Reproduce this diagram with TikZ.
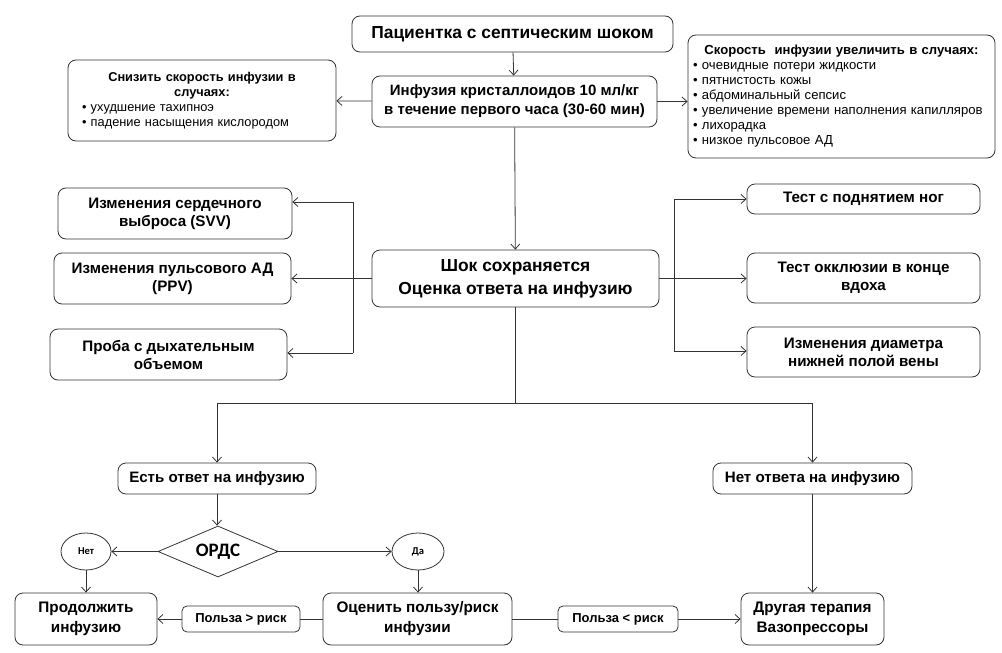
\documentclass[tikz,border=0pt]{standalone}
\usepackage{fontspec}
\setmainfont{Liberation Sans}
\newfontfamily\calib{Carlito}
\usetikzlibrary{arrows.meta,shapes.geometric}

\newcommand\fsz[2]{\fontsize{#1}{#2}\selectfont}
\tikzset{
  box/.style={draw=black!80, rounded corners=8pt, align=center, inner sep=3pt},
  arr/.style={draw=black!80, -{Straight Barb[length=5pt,width=9pt]}},
  ln/.style={draw=black!80},
}

\begin{document}
\begin{tikzpicture}[x=1pt,y=-1pt,line width=0.8pt]
\useasboundingbox (0,0) rectangle (1002,653);
% top row
\node[box, minimum width=321pt, minimum height=36pt, font=\bfseries\fsz{17.4}{20}] (patient) at (512.5,34) {Пациентка с септическим шоком};
\node[box, minimum width=285pt, minimum height=51pt, font=\bfseries\fsz{15}{19}] (infuse) at (514.5,101.5) {Инфузия кристаллоидов 10 мл/кг\\в течение первого часа (30-60 мин)};
\node[box, minimum width=268pt, minimum height=81pt, text width=240pt, align=left, font=\fsz{12.8}{15}] (slow) at (202,100.5)
  {{\centering\bfseries Снизить скорость инфузии в\\случаях:\par}• ухудшение тахипноэ\\• падение насыщения кислородом};
\node[box, minimum width=307pt, minimum height=123pt, text width=297pt, align=left, font=\fsz{13.1}{15}] (fast) at (841.5,96.5)
  {{\centering\bfseries Скорость\ \ инфузии увеличить в случаях:\par}• очевидные потери жидкости\\• пятнистость кожы\\• абдоминальный сепсис\\• увеличение времени наполнения капилляров\\• лихорадка\\• низкое пульсовое АД};
% middle row
\node[box, minimum width=287pt, minimum height=57pt, font=\bfseries\fsz{17.4}{23}] (shock) at (515.5,278.5) {Шок сохраняется\\Оценка ответа на инфузию};
\node[box, minimum width=234pt, minimum height=51pt, font=\bfseries\fsz{15.2}{18}] (svv) at (175,213.5) {Изменения сердечного\\выброса (SVV)};
\node[box, minimum width=237pt, minimum height=51pt, font=\bfseries\fsz{15.2}{18}] (ppv) at (172.5,278.5) {Изменения пульсового АД\\(PPV)};
\node[box, minimum width=237pt, minimum height=51pt, font=\bfseries\fsz{15.2}{18}] (tidal) at (168.5,354.5) {Проба с дыхательным\\объемом};
\node[box, minimum width=233pt, minimum height=30pt, font=\bfseries\fsz{15.2}{18}] (leg) at (863.5,199) {Тест с поднятием ног};
\node[box, minimum width=233pt, minimum height=50pt, font=\bfseries\fsz{15.2}{18}] (occl) at (863.5,278) {Тест окклюзии в конце\\вдоха};
\node[box, minimum width=233pt, minimum height=50pt, font=\bfseries\fsz{15.2}{18}] (ivc) at (863.5,352) {Изменения диаметра\\нижней полой вены};
% bottom part
\node[box, minimum width=198pt, minimum height=31pt, font=\bfseries\fsz{15.1}{18}] (yes) at (217,478.5) {Есть ответ на инфузию};
\node[box, minimum width=199pt, minimum height=31pt, font=\bfseries\fsz{15.1}{18}] (noresp) at (812.5,478.5) {Нет ответа на инфузию};
\node[draw=black!80, diamond, aspect=2.35, minimum width=120pt, minimum height=51pt, inner sep=0pt, font=\calib\bfseries\fsz{19}{22}] (ards) at (218,551.5) {ОРДС};
\node[draw=black!80, ellipse, minimum width=50pt, minimum height=37pt, inner sep=0pt, font=\calib\bfseries\fsz{10.5}{13}] (net) at (86,551.5) {Нет};
\node[draw=black!80, ellipse, minimum width=52pt, minimum height=37pt, inner sep=0pt, font=\calib\bfseries\fsz{10.5}{13}] (da) at (418,551.5) {Да};
\node[box, minimum width=142pt, minimum height=52pt, font=\bfseries\fsz{15.3}{20}] (cont) at (86,619) {Продолжить\\инфузию};
\node[box, minimum width=189pt, minimum height=52pt, font=\bfseries\fsz{15.3}{20}] (eval) at (417.5,619) {Оценить пользу/риск\\инфузии};
\node[box, minimum width=143pt, minimum height=52pt, font=\bfseries\fsz{15.3}{20}] (other) at (812.5,619) {Другая терапия\\Вазопрессоры};
\node[box, rounded corners=5pt, minimum width=118pt, minimum height=26pt, font=\bfseries\fsz{13}{15}] (gt) at (241,619) {Польза > риск};
\node[box, rounded corners=5pt, minimum width=120pt, minimum height=26pt, font=\bfseries\fsz{13}{15}] (lt) at (618,619) {Польза < риск};
% connectors
\draw[arr] (patient) -- (infuse);
\draw[arr] (infuse) -- (slow);
\draw[arr] (infuse.east) -- (infuse.east -| fast.west);
\draw[arr] (infuse) -- (shock);
\coordinate (lbtop) at (353,202);
\coordinate (lbbot) at (353,353);
\draw[arr] (shock.west) -- (ppv.east);
\draw[ln] (lbtop) -- (lbbot);
\draw[arr] (lbtop) -- (lbtop -| svv.east);
\draw[arr] (lbbot) -- (lbbot -| tidal.east);
\coordinate (rbtop) at (674,199);
\coordinate (rbbot) at (674,351);
\draw[arr] (shock.east) -- (shock.east -| occl.west);
\draw[ln] (rbtop) -- (rbbot);
\draw[arr] (rbtop) -- (leg.west);
\draw[arr] (rbbot) -- (rbbot -| ivc.west);
\path (shock.south) ++(0,96) coordinate (split);
\draw[ln] (shock.south) -- (split);
\draw[arr] (split) -| (yes.north);
\draw[arr] (split) -| (noresp.north);
\draw[arr] (yes.south) -- (yes.south |- ards.north);
\draw[arr] (ards) -- (net);
\draw[arr] (ards) -- (da);
\draw[arr] (net) -- (cont);
\draw[arr] (da) -- (da |- eval.north);
\draw[ln] (eval) -- (gt);
\draw[arr] (gt) -- (cont);
\draw[ln] (eval) -- (lt);
\draw[arr] (lt) -- (other);
\draw[arr] (noresp) -- (other);
\end{tikzpicture}
\end{document}
